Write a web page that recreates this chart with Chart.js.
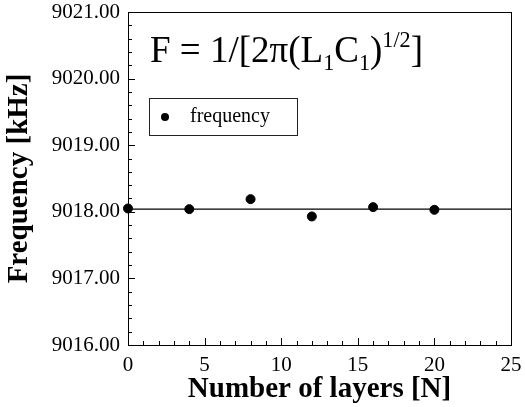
<!DOCTYPE html>
<html>
<head>
<meta charset="utf-8">
<script src="https://cdn.jsdelivr.net/npm/chart.js@4"></script>
<style>
html,body{margin:0;padding:0;background:#fff;}
#wrap{width:525px;height:407px;}
</style>
</head>
<body>
<div id="wrap"><canvas id="c" width="525" height="407"></canvas></div>
<script>
// ---- data ----
const layers = [0, 4, 8, 12, 16, 20];
const frequency = [9018.05, 9018.04, 9018.19, 9017.93, 9018.07, 9018.03];
const fitX = [0, 25];
const fitY = [9018.04, 9018.04];
const seriesLabel = 'frequency';
const xTitle = 'Number of layers [N]';
const yTitle = 'Frequency [kHz]';
const xRange = [0, 25];
const yRange = [9016, 9021];

const SERIF = '"Liberation Serif", "DejaVu Serif", serif';

const boxAndTicks = {
  id: 'boxAndTicks',
  afterDraw(chart) {
    const {ctx, chartArea: a, scales: {x, y}} = chart;
    ctx.save();
    ctx.strokeStyle = '#000';
    ctx.lineWidth = 1;
    ctx.strokeRect(a.left + 0.5, a.top + 0.5, a.right - a.left, a.bottom - a.top);
    ctx.beginPath();
    for (let v = xRange[0]; v <= xRange[1]; v += 1) {
      const px = Math.round(x.getPixelForValue(v)) + 0.5;
      const len = v % 5 === 0 ? 7 : 4;
      ctx.moveTo(px, a.bottom);
      ctx.lineTo(px, a.bottom - len);
    }
    for (let i = 0; i <= (yRange[1] - yRange[0]) * 5; i++) {
      const v = yRange[0] + i * 0.2;
      const py = Math.round(y.getPixelForValue(v)) + 0.5;
      const len = i % 5 === 0 ? 7 : 4;
      ctx.moveTo(a.left, py);
      ctx.lineTo(a.left + len, py);
    }
    ctx.stroke();

    // formula annotation
    const s = 37;
    let cx = 150;
    const base = 62;
    ctx.fillStyle = '#000';
    ctx.textBaseline = 'alphabetic';
    ctx.textAlign = 'left';
    const put = (t, size, dy) => {
      ctx.font = size + 'px ' + SERIF;
      ctx.fillText(t, cx, base + dy);
      cx += ctx.measureText(t).width;
    };
    put('F = 1/[2\u03C0(L', s, 0);
    put('1', s * 0.6, s * 0.22);
    put('C', s, 0);
    put('1', s * 0.6, s * 0.22);
    put(')', s, 0);
    put('1/2', s * 0.6, -s * 0.4);
    put(']', s, 0);

    // legend box
    ctx.lineWidth = 1;
    ctx.strokeStyle = '#222';
    ctx.strokeRect(149.5, 98.5, 148, 37);
    ctx.beginPath();
    ctx.arc(165, 117, 4, 0, Math.PI * 2);
    ctx.fill();
    ctx.font = '20px ' + SERIF;
    ctx.textBaseline = 'middle';
    ctx.fillText(seriesLabel, 190, 117);
    ctx.restore();
  }
};

new Chart(document.getElementById('c'), {
  type: 'scatter',
  data: {
    datasets: [
      {
        label: seriesLabel,
        data: layers.map((v, i) => ({x: v, y: frequency[i]})),
        backgroundColor: '#000',
        borderColor: '#000',
        pointRadius: 4.5,
        pointHoverRadius: 4.5,
        clip: false
      },
      {
        label: 'fit',
        type: 'line',
        data: fitX.map((v, i) => ({x: v, y: fitY[i]})),
        borderColor: '#000',
        borderWidth: 1.2,
        pointRadius: 0,
        fill: false
      }
    ]
  },
  options: {
    responsive: false,
    animation: false,
    events: [],
    layout: {padding: {top: 12, right: 14, left: 0, bottom: 0}},
    plugins: {legend: {display: false}, tooltip: {enabled: false}},
    scales: {
      x: {
        type: 'linear',
        min: xRange[0], max: xRange[1],
        afterFit(s) { s.height = 62; s.paddingRight = 0; s.paddingLeft = 0; },
        grid: {display: false, drawTicks: false},
        border: {display: true, color: '#000'},
        ticks: {stepSize: 5, color: '#000', padding: 8, font: {family: SERIF, size: 21}, maxRotation: 0},
        title: {display: true, text: xTitle, color: '#000', font: {family: SERIF, size: 29, weight: 'bold'}, padding: {top: 0, bottom: 0}}
      },
      y: {
        type: 'linear',
        min: yRange[0], max: yRange[1],
        afterFit(s) { s.width = 128; s.paddingTop = 0; s.paddingBottom = 0; },
        grid: {display: false, drawTicks: false},
        border: {display: true, color: '#000'},
        ticks: {stepSize: 1, color: '#000', padding: 8, font: {family: SERIF, size: 21},
          callback: v => Number(v).toFixed(2)},
        title: {display: true, text: yTitle, color: '#000', font: {family: SERIF, size: 29, weight: 'bold'}, padding: {top: 2, bottom: 0}}
      }
    }
  },
  plugins: [boxAndTicks]
});
</script>
</body>
</html>
